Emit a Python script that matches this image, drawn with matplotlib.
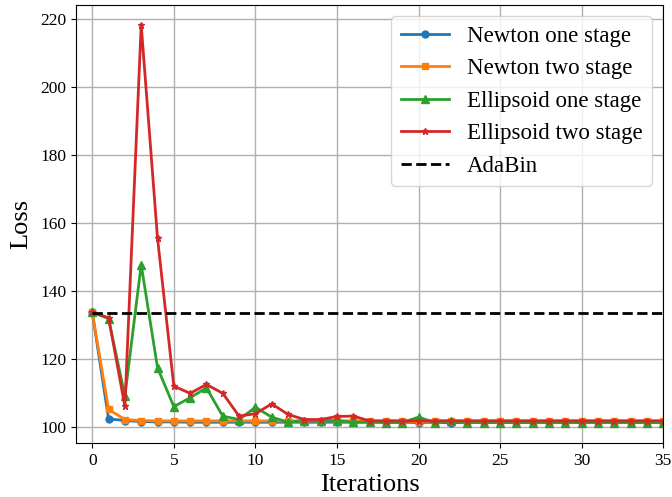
import numpy as np
import matplotlib.pyplot as plt

plt.rcParams['font.family'] = ['Liberation Serif', 'DejaVu Serif']

iterations = np.arange(0, 36)

newton_one = [133.8, 102.5, 102.0, 101.7, 101.6, 101.6, 101.5, 101.5, 101.5, 101.5,
              101.5, 101.5, 101.5, 101.5, 101.5, 101.5, 101.5, 101.5, 101.5, 101.5,
              101.4, 101.5, 101.3, 101.5, 101.5, 101.5, 101.5, 101.5, 101.5, 101.5,
              101.5, 101.5, 101.5, 101.5, 101.5, 101.5]
newton_two = [133.8, 105.3, 102.3, 102.0, 101.9, 101.9, 101.9, 101.9, 101.9, 101.9,
              101.9, 101.9, 101.9, 101.9, 101.9, 101.9, 101.9, 101.9, 101.9, 101.9,
              101.6, 101.9, 101.9, 101.9, 101.9, 101.9, 101.9, 101.9, 101.9, 101.9,
              101.9, 101.9, 101.9, 101.9, 101.9, 101.9]
ellipsoid_one = [133.8, 131.9, 109.2, 147.8, 117.5, 106.1, 108.7, 111.6, 103.3, 102.3,
                 105.9, 103.0, 101.5, 102.0, 102.0, 102.0, 101.5, 101.6, 101.4, 101.4,
                 103.0, 101.4, 102.0, 101.4, 101.4, 101.4, 101.4, 101.4, 101.4, 101.4,
                 101.4, 101.4, 101.4, 101.4, 101.4, 101.4]
ellipsoid_two = [133.8, 132.2, 106.2, 218.2, 155.6, 112.1, 110.0, 112.6, 110.0, 103.3,
                 104.0, 106.9, 103.8, 102.3, 102.3, 103.2, 103.3, 101.9, 101.9, 101.9,
                 101.9, 101.9, 101.9, 101.9, 101.9, 101.9, 101.9, 101.9, 101.9, 101.9,
                 101.9, 101.9, 101.9, 101.9, 101.9, 101.9]
adabin = 133.6

fig = plt.figure(figsize=(6.72, 4.97), dpi=100)
ax = fig.add_axes([0.113, 0.109, 0.874, 0.881])

ax.plot(iterations, newton_one, color='tab:blue', marker='o', markersize=5, linewidth=2, label='Newton one stage')
ax.plot(iterations, newton_two, color='tab:orange', marker='s', markersize=5, linewidth=2, label='Newton two stage')
ax.plot(iterations, ellipsoid_one, color='tab:green', marker='^', markersize=6, linewidth=2, label='Ellipsoid one stage')
ax.plot(iterations, ellipsoid_two, color='tab:red', marker='*', markersize=5, linewidth=2, label='Ellipsoid two stage')
ax.plot(iterations, [adabin] * len(iterations), color='black', linestyle='--', linewidth=2, label='AdaBin')

ax.set_xlim(-1, 35)
ax.grid(True, color='#b0b0b0', linewidth=1)
ax.tick_params(labelsize=12.5)
ax.set_xlabel('Iterations', fontsize=19, labelpad=4)
ax.set_ylabel('Loss', fontsize=19, labelpad=6)
ax.legend(loc='upper right', fontsize=16.5, handlelength=2.1)

plt.savefig('out.png')
